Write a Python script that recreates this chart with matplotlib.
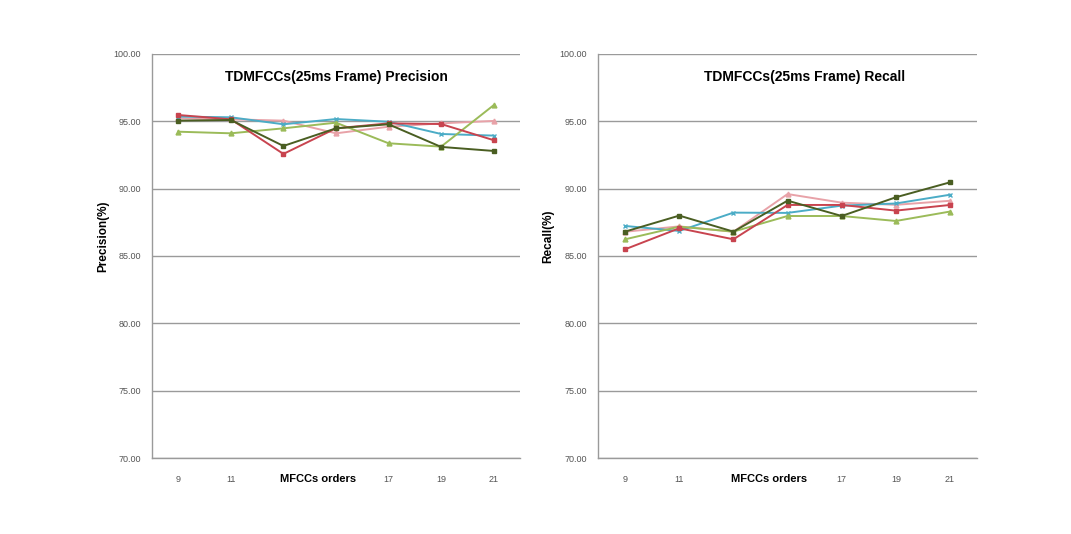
import matplotlib
matplotlib.use("Agg")
from matplotlib import pyplot as plt

plt.rcParams['font.family'] = ['Liberation Sans', 'DejaVu Sans']

orders = ['9', '11', '13', '15', '17', '19', '21']
tick_text = ['9', '11', '', '', '17', '19', '21']

# Precision (%)
prec_pink = [95.22, 95.15, 95.05, 94.11, 94.60, 94.85, 95.03]
prec_cyan = [95.35, 95.30, 94.78, 95.17, 94.97, 94.06, 93.94]
prec_green = [94.23, 94.11, 94.48, 94.90, 93.37, 93.12, 96.20]
prec_red = [95.47, 95.15, 92.58, 94.48, 94.85, 94.80, 93.60]
prec_olive = [95.05, 95.10, 93.17, 94.48, 94.78, 93.10, 92.80]

# Recall (%)
rec_pink = [86.80, 87.20, 86.80, 89.60, 88.96, 88.80, 89.10]
rec_cyan = [87.23, 86.86, 88.22, 88.20, 88.74, 88.90, 89.55]
rec_green = [86.24, 87.18, 86.81, 87.97, 87.97, 87.60, 88.30]
rec_red = [85.50, 87.06, 86.24, 88.79, 88.79, 88.37, 88.79]
rec_olive = [86.81, 88.00, 86.81, 89.11, 87.97, 89.36, 90.47]

colors = {'pink': '#E8A2A8', 'cyan': '#4BACC6', 'green': '#9BBB59',
          'red': '#C8444F', 'olive': '#4A5E22'}
markers = {'pink': '^', 'cyan': 'x', 'green': '^', 'red': 's', 'olive': 's'}

fig = plt.figure(figsize=(10.71, 5.34), dpi=100)
ax1 = fig.add_axes([0.1419, 0.1423, 0.3436, 0.7566])
ax2 = fig.add_axes([0.5584, 0.1423, 0.3539, 0.7566])

panels = [
    (ax1, 'TDMFCCs(25ms Frame) Precision', 'Precision(%)', 0.5,
     {'pink': prec_pink, 'cyan': prec_cyan, 'green': prec_green,
      'red': prec_red, 'olive': prec_olive}),
    (ax2, 'TDMFCCs(25ms Frame) Recall', 'Recall(%)', 0.544,
     {'pink': rec_pink, 'cyan': rec_cyan, 'green': rec_green,
      'red': rec_red, 'olive': rec_olive}),
]

for ax, title, ylab, tx, series in panels:
    x = range(len(orders))
    for name, vals in series.items():
        ax.plot(x, vals, color=colors[name], marker=markers[name],
                markersize=3.5, linewidth=1.4, zorder=3)
    ax.set_xlim(-0.5, len(orders) - 0.5)
    ax.set_ylim(70, 100)
    ax.set_yticks([70, 75, 80, 85, 90, 95, 100])
    ax.set_yticklabels(['%.2f' % v for v in [70, 75, 80, 85, 90, 95, 100]])
    ax.set_xticks(list(x))
    ax.set_xticklabels(tick_text)
    ax.tick_params(axis='both', length=0, labelsize=6.5, labelcolor='#555555')
    ax.tick_params(axis='y', pad=8)
    ax.tick_params(axis='x', pad=12)
    ax.grid(axis='y', color='#9a9a9a', linewidth=1.0, zorder=0)
    ax.set_axisbelow(True)
    for s in ['top', 'right']:
        ax.spines[s].set_visible(False)
    for s in ['left', 'bottom']:
        ax.spines[s].set_color('#9a9a9a')
        ax.spines[s].set_linewidth(1.0)
    ax.text(tx, 0.943, title, transform=ax.transAxes, ha='center', va='center',
            fontsize=10, fontweight='bold')
    ax.set_ylabel(ylab, fontsize=8.5, fontweight='bold', labelpad=4)
    ax.yaxis.set_label_coords(-0.115, 0.55)
    ax.text(0.45, -0.052, 'MFCCs orders', transform=ax.transAxes, ha='center',
            va='center', fontsize=8, fontweight='bold')

fig.savefig('out.png', dpi=100, facecolor='white')
